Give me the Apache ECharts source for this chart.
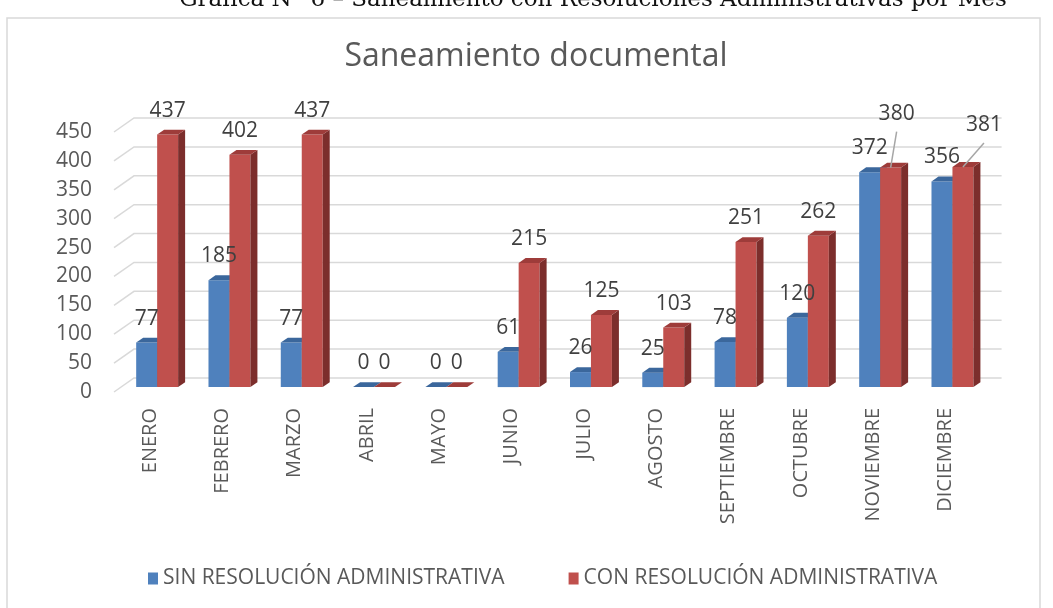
<!DOCTYPE html>
<html>
<head>
<meta charset="utf-8">
<title>Saneamiento documental</title>
<script src="https://cdn.jsdelivr.net/npm/echarts@6/dist/echarts.min.js"></script>
<style>
  html, body { margin: 0; padding: 0; background: #fff; }
  #chart { width: 1053px; height: 608px; }
</style>
</head>
<body>
<div id="chart"></div>
<script>
  // datos
  var meses = ['ENERO', 'FEBRERO', 'MARZO', 'ABRIL', 'MAYO', 'JUNIO', 'JULIO', 'AGOSTO', 'SEPTIEMBRE', 'OCTUBRE', 'NOVIEMBRE', 'DICIEMBRE'];
  var sinResolucion = [77, 185, 77, 0, 0, 61, 26, 25, 78, 120, 372, 356];
  var conResolucion = [437, 402, 437, 0, 0, 215, 125, 103, 251, 262, 380, 381];
  var yTicks = [0, 50, 100, 150, 200, 250, 300, 350, 400, 450];

  var FONT = '"Open Sans", "Noto Sans", sans-serif';
  var DEPTH_X = 20, DEPTH_Y = 14;   // profundidad del piso 3D
  var SHIFT = 7;                     // frente de las barras dentro del piso
  var BAR_D = 7;                     // grosor de la barra
  var RATIO = DEPTH_Y / DEPTH_X;

  // etiquetas que Excel movio a mano (solo serie roja)
  var labelShift = {10: [6, -30], 11: [21, -18]};

  function gridLine(params, api) {
    var cs = params.coordSys;
    var y = api.coord([0, api.value(1)])[1];
    var x0 = cs.x;
    return {
      type: 'polyline',
      shape: {points: [[x0, y], [x0 + DEPTH_X, y - DEPTH_Y], [cs.x + cs.width + DEPTH_X, y - DEPTH_Y]]},
      style: {stroke: '#d9d9d9', lineWidth: 1.5, fill: null},
      silent: true
    };
  }

  // caja frontal de la barra (x1, x2, arriba, abajo)
  function barBox(side, api) {
    var i = api.value(0), v = api.value(1);
    var p = api.coord([i, v]);
    var p0 = api.coord([i, 0]);
    var w = api.size([1, 0])[0] * 0.29;
    var dy = SHIFT * RATIO;
    var x1 = side === 0 ? p[0] + SHIFT - w : p[0] + SHIFT;
    return {i: i, v: v, x1: x1, x2: x1 + w, yt: p[1] - dy, yb: p0[1] - dy};
  }

  function barRender(side, front, top, dark) {
    return function (params, api) {
      var b = barBox(side, api);
      var ddy = BAR_D * RATIO;
      var kids = [];
      if (b.yb - b.yt > 0.5) {
        kids.push({type: 'rect', shape: {x: b.x1, y: b.yt, width: b.x2 - b.x1, height: b.yb - b.yt}, style: {fill: front}});
        kids.push({type: 'polygon', shape: {points: [[b.x2, b.yt], [b.x2 + BAR_D, b.yt - ddy], [b.x2 + BAR_D, b.yb - ddy], [b.x2, b.yb]]}, style: {fill: dark}});
      }
      kids.push({type: 'polygon', shape: {points: [[b.x1, b.yt], [b.x2, b.yt], [b.x2 + BAR_D, b.yt - ddy], [b.x1 + BAR_D, b.yt - ddy]]}, style: {fill: top}});
      return {type: 'group', children: kids};
    };
  }

  function labelRender(side, shifts) {
    return function (params, api) {
      var b = barBox(side, api);
      var cx = (b.x1 + b.x2) / 2;
      var lx = cx, ly = b.yt - 24;
      var kids = [];
      var s = shifts && shifts[b.i];
      if (s) {
        lx += s[0]; ly += s[1];
        kids.push({type: 'line', shape: {x1: lx, y1: ly + 18, x2: cx, y2: b.yt}, style: {stroke: '#a6a6a6', lineWidth: 1.5}});
      }
      kids.push({type: 'text', style: {text: String(b.v), x: lx, y: ly, align: 'center', verticalAlign: 'middle', font: '21px ' + FONT, fill: '#404040'}});
      return {type: 'group', children: kids};
    };
  }

  var sinData = sinResolucion.map(function (v, i) { return [i, v]; });
  var conData = conResolucion.map(function (v, i) { return [i, v]; });

  var chart = echarts.init(document.getElementById('chart'));
  var option = {
    animation: false,
    backgroundColor: '#fff',
    graphic: [
      {type: 'rect', shape: {x: 7, y: 18, width: 1033, height: 600}, style: {fill: null, stroke: '#d9d9d9', lineWidth: 1.5}, silent: true},
      {type: 'text', style: {text: 'Gráfica N° 6 – Saneamiento con Resoluciones Administrativas por Mes', x: 593, y: 12, align: 'center', verticalAlign: 'bottom', font: '23px "DejaVu Serif", serif', fill: '#111'}},
      {type: 'text', style: {text: 'Saneamiento documental', x: 536, y: 57, align: 'center', verticalAlign: 'middle', font: '32px ' + FONT, fill: '#595959'}}
    ],
    legend: {
      left: 143,
      top: 563,
      itemWidth: 10,
      itemHeight: 12,
      itemGap: 64,
      icon: 'rect',
      textStyle: {fontFamily: FONT, fontSize: 21, color: '#595959'},
      data: ['SIN RESOLUCIÓN ADMINISTRATIVA', 'CON RESOLUCIÓN ADMINISTRATIVA']
    },
    grid: {left: 114, width: 867.6, top: 132, height: 260},
    xAxis: {
      type: 'category',
      data: meses,
      axisLine: {show: false},
      axisTick: {show: false},
      axisLabel: {rotate: 90, margin: 16, fontFamily: FONT, fontSize: 20, color: '#595959'}
    },
    yAxis: {
      type: 'value',
      min: 0,
      max: 450,
      interval: 50,
      splitLine: {show: false},
      axisLine: {show: false},
      axisTick: {show: false},
      axisLabel: {margin: 22, fontFamily: FONT, fontSize: 21, color: '#595959'}
    },
    series: [
      {
        type: 'custom',
        name: 'grid',
        z: 1,
        silent: true,
        renderItem: gridLine,
        data: yTicks.map(function (t) { return [0, t]; })
      },
      {
        type: 'custom',
        name: 'SIN RESOLUCIÓN ADMINISTRATIVA',
        z: 2,
        itemStyle: {color: '#4f81bd'},
        renderItem: barRender(0, '#4f81bd', '#3b679c', '#385d8a'),
        data: sinData
      },
      {
        type: 'custom',
        name: 'CON RESOLUCIÓN ADMINISTRATIVA',
        z: 3,
        itemStyle: {color: '#c0504d'},
        renderItem: barRender(1, '#c0504d', '#9e3c3a', '#7c2e2c'),
        data: conData
      },
      {
        type: 'custom',
        name: 'etiquetas sin',
        z: 5,
        silent: true,
        renderItem: labelRender(0, null),
        data: sinData
      },
      {
        type: 'custom',
        name: 'etiquetas con',
        z: 5,
        silent: true,
        renderItem: labelRender(1, labelShift),
        data: conData
      }
    ]
  };
  chart.setOption(option);
</script>
</body>
</html>
